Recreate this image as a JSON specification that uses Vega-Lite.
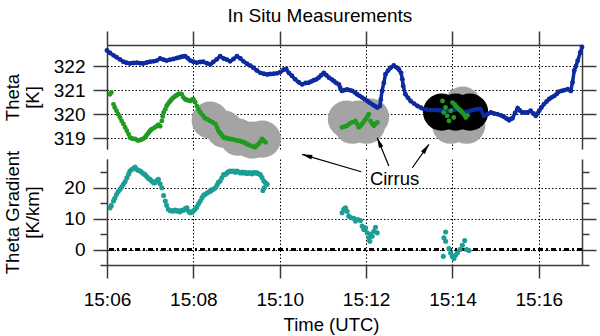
{
  "$schema": "https://vega.github.io/schema/vega-lite/v6.json",
  "padding": {"top": 7, "left": 3, "right": 4, "bottom": 2},
  "background": "white",
  "title": {"text": "In Situ Measurements", "font": "Liberation Sans", "fontSize": 19, "fontWeight": "normal", "color": "#000", "anchor": "middle", "frame": "bounds", "baseline": "alphabetic", "offset": -11, "dx": 20},
  "bounds": "flush",
  "spacing": 10,
  "config": {
    "view": {"stroke": null},
    "font": "Liberation Sans",
    "axis": {
      "domainColor": "#3a3a3a", "domainWidth": 1.5, "tickColor": "#3a3a3a", "tickWidth": 1.5,
      "labelFont": "Liberation Sans", "labelFontSize": 19, "labelColor": "#000", "labelFlush": false,
      "titleFont": "Liberation Sans", "titleFontSize": 18.5, "titleFontWeight": "normal", "titleColor": "#000",
      "gridColor": "#000", "gridDash": [1.5, 2], "gridWidth": 1, "gridOpacity": 1
    }
  },
  "datasets": {
    "blue": [
      {"t":6.00,"theta":322.65},{"t":6.07,"theta":322.55},{"t":6.15,"theta":322.45},{"t":6.22,"theta":322.37},{"t":6.30,"theta":322.28},{"t":6.38,"theta":322.18},{"t":6.45,"theta":322.14},{"t":6.53,"theta":322.11},{"t":6.61,"theta":322.13},{"t":6.69,"theta":322.14},{"t":6.77,"theta":322.12},{"t":6.84,"theta":322.11},{"t":6.92,"theta":322.15},{"t":7.00,"theta":322.18},{"t":7.08,"theta":322.20},{"t":7.15,"theta":322.23},{"t":7.23,"theta":322.32},{"t":7.31,"theta":322.27},{"t":7.38,"theta":322.23},{"t":7.46,"theta":322.27},{"t":7.54,"theta":322.30},{"t":7.62,"theta":322.34},{"t":7.69,"theta":322.37},{"t":7.75,"theta":322.40},{"t":7.81,"theta":322.41},{"t":7.87,"theta":322.33},{"t":7.93,"theta":322.23},{"t":8.00,"theta":322.18},{"t":8.08,"theta":322.14},{"t":8.16,"theta":322.17},{"t":8.23,"theta":322.18},{"t":8.31,"theta":322.12},{"t":8.39,"theta":322.07},{"t":8.46,"theta":322.17},{"t":8.54,"theta":322.28},{"t":8.62,"theta":322.41},{"t":8.70,"theta":322.32},{"t":8.78,"theta":322.27},{"t":8.85,"theta":322.20},{"t":8.93,"theta":322.30},{"t":9.01,"theta":322.41},{"t":9.09,"theta":322.32},{"t":9.16,"theta":322.20},{"t":9.24,"theta":322.10},{"t":9.32,"theta":322.02},{"t":9.39,"theta":321.93},{"t":9.47,"theta":321.82},{"t":9.55,"theta":321.72},{"t":9.63,"theta":321.68},{"t":9.71,"theta":321.65},{"t":9.78,"theta":321.67},{"t":9.86,"theta":321.68},{"t":9.94,"theta":321.70},{"t":10.01,"theta":321.75},{"t":10.09,"theta":321.85},{"t":10.15,"theta":321.88},{"t":10.21,"theta":321.72},{"t":10.28,"theta":321.60},{"t":10.36,"theta":321.45},{"t":10.44,"theta":321.33},{"t":10.52,"theta":321.24},{"t":10.60,"theta":321.30},{"t":10.67,"theta":321.31},{"t":10.73,"theta":321.36},{"t":10.79,"theta":321.41},{"t":10.85,"theta":321.45},{"t":10.90,"theta":321.52},{"t":10.96,"theta":321.62},{"t":11.02,"theta":321.72},{"t":11.08,"theta":321.62},{"t":11.14,"theta":321.52},{"t":11.20,"theta":321.45},{"t":11.25,"theta":321.38},{"t":11.31,"theta":321.30},{"t":11.37,"theta":321.24},{"t":11.40,"theta":321.10},{"t":11.44,"theta":320.97},{"t":11.50,"theta":321.00},{"t":11.56,"theta":321.03},{"t":11.62,"theta":321.00},{"t":11.68,"theta":320.97},{"t":11.74,"theta":320.90},{"t":11.79,"theta":320.83},{"t":11.85,"theta":320.76},{"t":11.91,"theta":320.69},{"t":11.97,"theta":320.62},{"t":12.03,"theta":320.55},{"t":12.08,"theta":320.48},{"t":12.14,"theta":320.41},{"t":12.20,"theta":320.34},{"t":12.26,"theta":320.28},{"t":12.32,"theta":320.34},{"t":12.34,"theta":320.60},{"t":12.37,"theta":320.97},{"t":12.41,"theta":321.30},{"t":12.45,"theta":321.66},{"t":12.51,"theta":321.82},{"t":12.57,"theta":321.93},{"t":12.64,"theta":322.03},{"t":12.70,"theta":321.95},{"t":12.76,"theta":321.86},{"t":12.81,"theta":321.72},{"t":12.84,"theta":321.45},{"t":12.86,"theta":321.17},{"t":12.91,"theta":320.83},{"t":12.97,"theta":320.68},{"t":13.03,"theta":320.55},{"t":13.11,"theta":320.44},{"t":13.19,"theta":320.34},{"t":13.27,"theta":320.27},{"t":13.34,"theta":320.21},{"t":13.42,"theta":320.19},{"t":13.49,"theta":320.17},{"t":13.57,"theta":320.17},{"t":13.65,"theta":320.17},{"t":13.72,"theta":320.15},{"t":13.80,"theta":320.14},{"t":13.88,"theta":320.13},{"t":13.96,"theta":320.14},{"t":14.03,"theta":320.18},{"t":14.11,"theta":320.21},{"t":14.19,"theta":320.12},{"t":14.27,"theta":320.07},{"t":14.34,"theta":320.10},{"t":14.42,"theta":320.14},{"t":14.50,"theta":320.18},{"t":14.58,"theta":320.21},{"t":14.65,"theta":320.21},{"t":14.73,"theta":319.93},{"t":14.81,"theta":320.00},{"t":14.89,"theta":320.07},{"t":14.96,"theta":320.03},{"t":15.04,"theta":320.00},{"t":15.12,"theta":319.95},{"t":15.19,"theta":319.89},{"t":15.25,"theta":319.82},{"t":15.31,"theta":319.75},{"t":15.35,"theta":319.80},{"t":15.39,"theta":319.83},{"t":15.45,"theta":320.05},{"t":15.51,"theta":320.25},{"t":15.56,"theta":320.15},{"t":15.62,"theta":320.07},{"t":15.68,"theta":320.07},{"t":15.74,"theta":320.07},{"t":15.81,"theta":320.14},{"t":15.87,"theta":320.03},{"t":15.93,"theta":319.93},{"t":15.97,"theta":320.03},{"t":16.01,"theta":320.14},{"t":16.06,"theta":320.28},{"t":16.12,"theta":320.42},{"t":16.18,"theta":320.53},{"t":16.24,"theta":320.63},{"t":16.30,"theta":320.70},{"t":16.36,"theta":320.76},{"t":16.42,"theta":320.85},{"t":16.47,"theta":320.94},{"t":16.53,"theta":320.97},{"t":16.59,"theta":321.00},{"t":16.67,"theta":321.04},{"t":16.74,"theta":320.97},{"t":16.78,"theta":321.32},{"t":16.82,"theta":321.81},{"t":16.86,"theta":322.00},{"t":16.90,"theta":322.22},{"t":16.96,"theta":322.57},{"t":17.00,"theta":322.80}
    ],
    "green": [
      {"t":6.07,"theta":320.83},{"t":6.10,"theta":320.90},{"t":6.15,"theta":320.41},{"t":6.18,"theta":320.28},{"t":6.22,"theta":320.14},{"t":6.26,"theta":320.00},{"t":6.30,"theta":319.86},{"t":6.34,"theta":319.72},{"t":6.38,"theta":319.59},{"t":6.42,"theta":319.45},{"t":6.46,"theta":319.31},{"t":6.50,"theta":319.17},{"t":6.53,"theta":319.03},{"t":6.57,"theta":319.00},{"t":6.60,"theta":318.97},{"t":6.65,"theta":318.97},{"t":6.69,"theta":318.93},{"t":6.72,"theta":318.90},{"t":6.77,"theta":318.92},{"t":6.80,"theta":318.95},{"t":6.83,"theta":318.97},{"t":6.88,"theta":319.03},{"t":6.91,"theta":319.10},{"t":6.94,"theta":319.17},{"t":6.97,"theta":319.25},{"t":7.00,"theta":319.31},{"t":7.03,"theta":319.36},{"t":7.06,"theta":319.40},{"t":7.11,"theta":319.45},{"t":7.15,"theta":319.50},{"t":7.19,"theta":319.56},{"t":7.23,"theta":319.50},{"t":7.27,"theta":319.72},{"t":7.29,"theta":319.90},{"t":7.31,"theta":320.07},{"t":7.35,"theta":320.20},{"t":7.38,"theta":320.34},{"t":7.41,"theta":320.42},{"t":7.44,"theta":320.50},{"t":7.47,"theta":320.56},{"t":7.50,"theta":320.62},{"t":7.53,"theta":320.68},{"t":7.56,"theta":320.72},{"t":7.59,"theta":320.76},{"t":7.62,"theta":320.80},{"t":7.65,"theta":320.83},{"t":7.68,"theta":320.85},{"t":7.73,"theta":320.83},{"t":7.77,"theta":320.70},{"t":7.81,"theta":320.62},{"t":7.84,"theta":320.60},{"t":7.87,"theta":320.58},{"t":7.93,"theta":320.55},{"t":7.97,"theta":320.60},{"t":8.00,"theta":320.62},{"t":8.04,"theta":320.50},{"t":8.08,"theta":320.34},{"t":8.12,"theta":320.20},{"t":8.16,"theta":320.07},{"t":8.22,"theta":319.95},{"t":8.27,"theta":319.83},{"t":8.33,"theta":319.78},{"t":8.39,"theta":319.72},{"t":8.45,"theta":319.66},{"t":8.51,"theta":319.59},{"t":8.55,"theta":319.45},{"t":8.58,"theta":319.31},{"t":8.61,"theta":319.24},{"t":8.64,"theta":319.17},{"t":8.67,"theta":319.10},{"t":8.70,"theta":319.03},{"t":8.74,"theta":319.02},{"t":8.78,"theta":319.00},{"t":8.81,"theta":318.98},{"t":8.85,"theta":318.97},{"t":8.89,"theta":318.96},{"t":8.93,"theta":318.95},{"t":8.97,"theta":318.92},{"t":9.01,"theta":318.90},{"t":9.05,"theta":318.89},{"t":9.08,"theta":318.88},{"t":9.12,"theta":318.85},{"t":9.16,"theta":318.83},{"t":9.20,"theta":318.80},{"t":9.24,"theta":318.76},{"t":9.28,"theta":318.72},{"t":9.32,"theta":318.69},{"t":9.38,"theta":318.65},{"t":9.43,"theta":318.62},{"t":9.47,"theta":318.70},{"t":9.51,"theta":318.76},{"t":9.55,"theta":318.85},{"t":9.59,"theta":318.97},{"t":9.63,"theta":318.90},{"t":9.67,"theta":318.83},
      {"t":11.44,"theta":319.45},{"t":11.50,"theta":319.48},{"t":11.56,"theta":319.52},{"t":11.62,"theta":319.60},{"t":11.68,"theta":319.66},{"t":11.75,"theta":319.72},{"t":11.79,"theta":319.60},{"t":11.83,"theta":319.45},{"t":11.87,"theta":319.52},{"t":11.91,"theta":319.59},{"t":11.95,"theta":319.70},{"t":11.99,"theta":319.79},{"t":12.03,"theta":319.90},{"t":12.06,"theta":320.00},{"t":12.10,"theta":319.72},{"t":12.14,"theta":319.60},{"t":12.18,"theta":319.52},{"t":12.22,"theta":319.60},{"t":12.26,"theta":319.66},
      {"t":13.77,"theta":320.55},{"t":13.80,"theta":320.07},{"t":13.84,"theta":320.28},{"t":13.88,"theta":319.93},{"t":13.92,"theta":319.72},{"t":13.96,"theta":320.14},{"t":14.00,"theta":320.48},{"t":14.03,"theta":319.86},{"t":14.05,"theta":320.40},{"t":14.07,"theta":320.34},{"t":14.11,"theta":320.28},{"t":14.15,"theta":320.21},{"t":14.19,"theta":320.14},{"t":14.23,"theta":320.07},{"t":14.27,"theta":319.98},{"t":14.31,"theta":319.86},{"t":14.35,"theta":319.95}
    ],
    "grayBlob": [
      {"t":8.39,"theta":319.75},{"t":8.715,"theta":319.375},{"t":9.04,"theta":319.04},{"t":9.364,"theta":318.92},{"t":9.596,"theta":318.96},
      {"t":11.545,"theta":319.79},{"t":12.102,"theta":319.875},{"t":11.684,"theta":319.54},{"t":12.009,"theta":319.54},{"t":11.824,"theta":319.79},
      {"t":13.958,"theta":319.54},{"t":14.329,"theta":319.54},{"t":14.237,"theta":320.375}
    ],
    "blackBlob": [
      {"t":13.749,"theta":320.083},{"t":14.074,"theta":320.083},{"t":14.399,"theta":320.083}
    ],
    "teal": [
      {"t":6.07,"g":13.5},{"t":6.10,"g":14.2},{"t":6.15,"g":15.7},{"t":6.18,"g":16.6},{"t":6.22,"g":17.8},{"t":6.26,"g":18.8},{"t":6.30,"g":19.5},{"t":6.34,"g":20.2},{"t":6.38,"g":21.1},{"t":6.42,"g":22.0},{"t":6.46,"g":23.2},{"t":6.50,"g":24.4},{"t":6.53,"g":25.4},{"t":6.57,"g":25.9},{"t":6.61,"g":26.2},{"t":6.65,"g":26.7},{"t":6.69,"g":26.0},{"t":6.73,"g":25.6},{"t":6.77,"g":25.4},{"t":6.81,"g":24.9},{"t":6.85,"g":24.5},{"t":6.88,"g":24.3},{"t":6.92,"g":23.6},{"t":6.96,"g":23.0},{"t":7.00,"g":22.7},{"t":7.04,"g":22.1},{"t":7.08,"g":21.6},{"t":7.11,"g":21.6},{"t":7.15,"g":22.3},{"t":7.19,"g":22.7},{"t":7.23,"g":21.3},{"t":7.27,"g":20.0},{"t":7.31,"g":17.5},{"t":7.35,"g":15.7},{"t":7.38,"g":14.3},{"t":7.42,"g":13.0},{"t":7.46,"g":12.6},{"t":7.50,"g":12.5},{"t":7.54,"g":12.5},{"t":7.58,"g":12.8},{"t":7.62,"g":12.5},{"t":7.65,"g":12.5},{"t":7.69,"g":12.2},{"t":7.73,"g":12.7},{"t":7.77,"g":12.7},{"t":7.81,"g":13.3},{"t":7.85,"g":13.5},{"t":7.89,"g":12.4},{"t":7.93,"g":11.9},{"t":7.97,"g":12.1},{"t":8.00,"g":12.5},{"t":8.04,"g":13.0},{"t":8.08,"g":13.8},{"t":8.12,"g":14.8},{"t":8.16,"g":15.7},{"t":8.20,"g":16.8},{"t":8.24,"g":17.6},{"t":8.27,"g":17.8},{"t":8.31,"g":18.2},{"t":8.35,"g":18.6},{"t":8.39,"g":18.9},{"t":8.43,"g":19.3},{"t":8.47,"g":19.6},{"t":8.51,"g":20.0},{"t":8.55,"g":20.9},{"t":8.58,"g":21.8},{"t":8.62,"g":22.2},{"t":8.66,"g":23.2},{"t":8.70,"g":24.3},{"t":8.74,"g":24.3},{"t":8.78,"g":24.8},{"t":8.82,"g":25.2},{"t":8.85,"g":25.4},{"t":8.89,"g":25.3},{"t":8.93,"g":25.4},{"t":8.97,"g":25.0},{"t":9.01,"g":25.4},{"t":9.05,"g":25.1},{"t":9.09,"g":24.8},{"t":9.13,"g":25.1},{"t":9.16,"g":24.8},{"t":9.20,"g":25.0},{"t":9.24,"g":24.6},{"t":9.28,"g":24.8},{"t":9.32,"g":24.8},{"t":9.36,"g":24.5},{"t":9.40,"g":24.9},{"t":9.44,"g":24.8},{"t":9.47,"g":24.8},{"t":9.51,"g":24.5},{"t":9.55,"g":24.3},{"t":9.59,"g":23.3},{"t":9.63,"g":22.2},{"t":9.67,"g":21.6},{"t":9.71,"g":21.1},{"t":9.61,"g":19.1},{"t":9.64,"g":20.0},
      {"t":11.445,"g":11.9},{"t":11.483,"g":13.0},{"t":11.522,"g":13.5},{"t":11.561,"g":12.4},{"t":11.599,"g":10.8},{"t":11.654,"g":10.3},{"t":11.715,"g":10.1},{"t":11.754,"g":9.2},{"t":11.808,"g":9.7},{"t":11.870,"g":9.4},{"t":11.909,"g":7.6},{"t":11.947,"g":6.5},{"t":11.986,"g":7.0},{"t":12.025,"g":5.4},{"t":12.063,"g":3.8},{"t":12.087,"g":2.7},{"t":12.141,"g":4.3},{"t":12.180,"g":5.9},{"t":12.218,"g":7.2},{"t":12.257,"g":5.4},{"t":12.102,"g":4.9},
      {"t":13.842,"g":5.7},{"t":13.803,"g":3.8},{"t":13.842,"g":2.7},{"t":13.788,"g":-2.2},{"t":13.919,"g":0.3},{"t":13.958,"g":-1.1},{"t":13.997,"g":-2.2},{"t":14.035,"g":-2.9},{"t":14.074,"g":-1.8},{"t":14.113,"g":-1.1},{"t":14.174,"g":0.0},{"t":14.229,"g":1.4},{"t":14.283,"g":2.9},{"t":14.329,"g":0.0},{"t":14.383,"g":-0.3}
    ],
    "zero": [{"g": 0}],
    "label": [{"t": 12.659, "g": 22.8, "text": "Cirrus"}],
    "arrows": [
      {"t":11.886,"g":25.18,"t2":10.517,"g2":30.81,"ht":10.629,"hg":30.36,"dir":286.4},
      {"t":12.527,"g":27.02,"t2":12.258,"g2":36.18,"ht":12.302,"hg":34.69,"dir":337.7},
      {"t":13.070,"g":26.47,"t2":13.455,"g2":34.05,"ht":13.387,"hg":32.72,"dir":35.4}
    ]
  },
  "vconcat": [
    {
      "width": 475,
      "height": 104,
      "layer": [
        {
          "data": {"name": "grayBlob"},
          "mark": {"type": "point", "shape": "circle", "filled": true, "size": 1385, "color": "#a4a4a4", "opacity": 1, "strokeWidth": 0},
          "encoding": {
            "x": {"field": "t", "type": "quantitative", "scale": {"domain": [6, 17], "nice": false, "zero": false},
                  "axis": {"orient": "top", "values": [6, 8, 10, 12, 14, 16], "labels": false, "tickSize": 14, "grid": true, "title": null, "domain": true}},
            "y": {"field": "theta", "type": "quantitative", "scale": {"domain": [318.55, 322.88], "nice": false, "zero": false},
                  "axis": {"orient": "left", "values": [319, 320, 321, 322], "tickSize": 14, "labelPadding": 8, "grid": true, "title": ["Theta", "[K]"], "titleX": -85, "titleLineHeight": 20}}
          }
        },
        {
          "data": {"name": "blackBlob"},
          "mark": {"type": "point", "shape": "circle", "filled": true, "size": 1385, "color": "#000000", "opacity": 1, "strokeWidth": 0},
          "encoding": {
            "x": {"field": "t", "type": "quantitative", "axis": null},
            "y": {"field": "theta", "type": "quantitative",
                  "axis": {"orient": "right", "values": [319, 320, 321, 322], "labels": false, "tickSize": 14, "grid": false, "title": null}}
          }
        },
        {
          "data": {"name": "blue"},
          "mark": {"type": "line", "color": "#0d2b9e", "strokeWidth": 3.5},
          "encoding": {
            "x": {"field": "t", "type": "quantitative", "axis": null},
            "y": {"field": "theta", "type": "quantitative", "axis": null}
          }
        },
        {
          "data": {"name": "blue"},
          "mark": {"type": "point", "shape": "circle", "filled": true, "size": 24, "color": "#0d2b9e", "opacity": 1},
          "encoding": {
            "x": {"field": "t", "type": "quantitative", "axis": null},
            "y": {"field": "theta", "type": "quantitative", "axis": null}
          }
        },
        {
          "data": {"name": "green"},
          "mark": {"type": "point", "shape": "circle", "filled": true, "size": 24, "color": "#1f9b1f", "opacity": 1},
          "encoding": {
            "x": {"field": "t", "type": "quantitative", "axis": null},
            "y": {"field": "theta", "type": "quantitative", "axis": null}
          }
        }
      ],
      "resolve": {"axis": {"x": "independent", "y": "independent"}}
    },
    {
      "width": 475,
      "height": 106,
      "layer": [
        {
          "data": {"name": "zero"},
          "mark": {"type": "rule", "color": "#000", "strokeWidth": 3, "strokeDash": [5, 3, 2, 3]},
          "encoding": {
            "y": {"field": "g", "type": "quantitative", "scale": {"domain": [-5, 29.3], "nice": false, "zero": false},
                  "axis": {"orient": "left", "values": [0, 10, 20], "tickSize": 14, "labelPadding": 8, "grid": true, "title": ["Theta Gradient", "[K/km]"], "titleX": -85, "titleLineHeight": 20}}
          }
        },
        {
          "data": {"name": "teal"},
          "mark": {"type": "point", "shape": "circle", "filled": true, "size": 26, "color": "#1b9e96", "opacity": 1},
          "encoding": {
            "x": {"field": "t", "type": "quantitative", "scale": {"domain": [6, 17], "nice": false, "zero": false},
                  "axis": {"orient": "bottom", "values": [6, 8, 10, 12, 14, 16], "tickSize": 13, "labelPadding": 12, "grid": true, "title": "Time (UTC)", "titlePadding": 6, "titleX": 224,
                           "labelExpr": "'15:' + (datum.value < 10 ? '0' : '') + datum.value"}},
            "y": {"field": "g", "type": "quantitative",
                  "axis": {"orient": "left", "values": [-5, 5, 15, 25], "tickSize": 7, "labels": false, "grid": false, "domain": false, "title": null}}
          }
        },
        {
          "data": {"name": "label"},
          "mark": {"type": "text", "font": "Liberation Sans", "fontSize": 18.5, "color": "#000", "align": "center", "baseline": "middle"},
          "encoding": {
            "x": {"field": "t", "type": "quantitative", "axis": null},
            "y": {"field": "g", "type": "quantitative",
                  "axis": {"orient": "right", "values": [0, 10, 20], "tickSize": 14, "labels": false, "grid": false, "title": null}},
            "text": {"field": "text"}
          }
        },
        {
          "data": {"name": "arrows"},
          "mark": {"type": "rule", "color": "#000", "strokeWidth": 1.2},
          "encoding": {
            "x": {"field": "t", "type": "quantitative", "axis": null},
            "y": {"field": "g", "type": "quantitative",
                  "axis": {"orient": "right", "values": [-5, 5, 15, 25], "tickSize": 7, "labels": false, "grid": false, "domain": false, "title": null}},
            "x2": {"field": "t2"},
            "y2": {"field": "g2"}
          }
        },
        {
          "data": {"name": "arrows"},
          "mark": {"type": "point", "shape": "M0,-1L0.45,1L-0.45,1Z", "filled": true, "size": 110, "color": "#000", "opacity": 1},
          "encoding": {
            "x": {"field": "ht", "type": "quantitative", "axis": null},
            "y": {"field": "hg", "type": "quantitative", "axis": null},
            "angle": {"field": "dir", "type": "quantitative", "scale": null}
          }
        }
      ],
      "resolve": {"axis": {"x": "independent", "y": "independent"}}
    }
  ]
}
